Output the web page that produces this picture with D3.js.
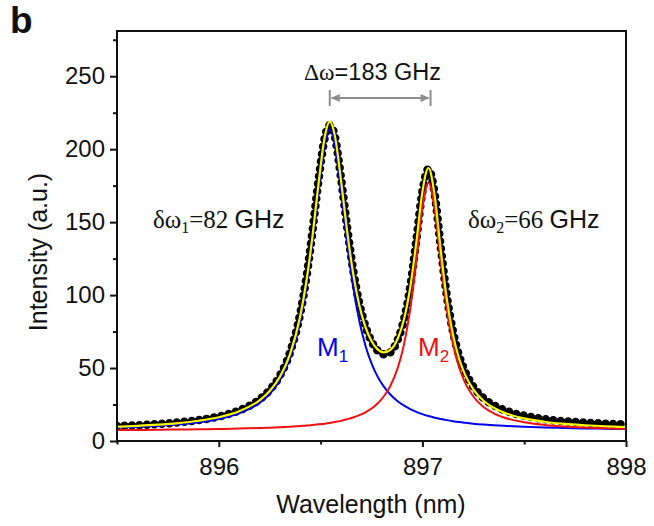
<html>
<script src="https://d3js.org/d3.v7.min.js"></script>
<style>
    body { margin: 0; background: #fff; }
    text { font-family: "Liberation Sans", Arial, sans-serif; fill: #111; }
</style>

<body>
    <script>
        var width = 654;
        var height = 526;

        // values
        var wavelength = [895.5, 895.6, 895.7, 895.8, 895.9, 896.0, 896.1, 896.2, 896.25, 896.3,
            896.35, 896.4, 896.43, 896.46, 896.49, 896.52, 896.545, 896.57, 896.6, 896.63,
            896.66, 896.69, 896.72, 896.75, 896.78, 896.81, 896.84, 896.88, 896.91, 896.94,
            896.97, 897.0, 897.03, 897.06, 897.09, 897.12, 897.15, 897.18, 897.21, 897.25,
            897.3, 897.35, 897.4, 897.5, 897.6, 897.7, 897.8, 897.9, 898.0];
        var measured = [10.2, 10.8, 11.6, 12.7, 14.3, 16.8, 20.9, 28.5, 35.0, 44.8,
            60.8, 87.5, 111.8, 143.5, 179.0, 207.5, 216.5, 208.8, 180.5, 147.0,
            117.2, 94.5, 78.8, 68.4, 62.0, 59.4, 60.5, 69.8, 83.5, 105.5,
            137.5, 171.0, 186.5, 169.5, 133.0, 99.5, 75.2, 58.6, 47.4, 37.3,
            29.4, 24.6, 21.3, 17.3, 15.0, 13.5, 12.6, 11.9, 11.4];
        var fitSum = [9.8, 10.4, 11.2, 12.3, 13.9, 16.3, 20.4, 27.9, 34.3, 44.0,
            59.6, 85.7, 109.3, 140.3, 176.6, 208.2, 218.9, 209.3, 179.0, 144.2,
            114.8, 93.1, 78.2, 68.5, 62.8, 60.8, 62.2, 70.6, 83.6, 105.0,
            136.0, 170.7, 187.1, 168.3, 131.1, 97.4, 73.0, 56.5, 45.3, 35.4,
            27.6, 22.8, 19.5, 15.5, 13.2, 11.7, 10.8, 10.1, 9.6];
        var modeM1 = [9.3, 9.8, 10.4, 11.4, 12.8, 15.1, 18.9, 26.1, 32.2, 41.6,
            56.8, 82.4, 105.7, 136.3, 172.2, 203.3, 213.5, 203.3, 172.2, 136.3,
            105.7, 82.4, 65.5, 53.2, 44.1, 37.4, 32.2, 27.1, 24.2, 21.9,
            20.0, 18.4, 17.1, 16.0, 15.1, 14.3, 13.6, 13.0, 12.5, 11.9,
            11.3, 10.8, 10.4, 9.7, 9.2, 8.9, 8.6, 8.4, 8.2];
        var modeM2 = [7.6, 7.6, 7.7, 7.9, 8.0, 8.2, 8.5, 8.9, 9.1, 9.4,
            9.8, 10.3, 10.6, 11.0, 11.4, 11.9, 12.4, 13.0, 13.8, 14.9,
            16.1, 17.7, 19.7, 22.3, 25.7, 30.5, 37.0, 50.5, 66.4, 90.1,
            123.0, 159.3, 177.0, 159.3, 123.0, 90.1, 66.4, 50.5, 39.8, 30.5,
            23.3, 19.0, 16.1, 12.8, 11.0, 9.9, 9.2, 8.7, 8.4];

        var xMajor = [896, 897, 898];
        var xMinor = [895.5, 896.5, 897.5];
        var yMajor = [0, 50, 100, 150, 200, 250];
        var yMinor = [25, 75, 125, 175, 225, 275];
        var peaks = [896.545, 897.04];

        var svg = d3.select("body").append("svg")
            .attr("width", width)
            .attr("height", height);

        var padL = 117, padR = 626, padT = 31, padB = 441;

        var x = d3.scaleLinear().domain([895.5, 898]).range([padL, padR]);
        var y = d3.scaleLinear().domain([0, 281]).range([padB, padT]);

        svg.append("clipPath").attr("id", "plotclip")
            .append("rect")
            .attr("x", padL).attr("y", padT)
            .attr("width", padR - padL).attr("height", padB - padT);

        var plot = svg.append("g").attr("clip-path", "url(#plotclip)");

        var rows = wavelength.map((w, i) => ({ w: w, d: measured[i], f: fitSum[i], a: modeM1[i], b: modeM2[i] }));

        function lineOf(key) {
            return d3.line()
                .x(d => x(d.w))
                .y(d => y(d[key]))
                .curve(d3.curveMonotoneX);
        }

        // measured points: thick round-capped dotted path
        plot.append("path")
            .datum(rows)
            .attr("d", lineOf("d"))
            .attr("fill", "none")
            .attr("stroke", "#000")
            .attr("stroke-width", 8.5)
            .attr("stroke-linecap", "round")
            .attr("stroke-dasharray", "0 7.5");

        plot.append("path")
            .datum(rows)
            .attr("d", lineOf("a"))
            .attr("fill", "none")
            .attr("stroke", "#0000f0")
            .attr("stroke-width", 2);

        plot.append("path")
            .datum(rows)
            .attr("d", lineOf("b"))
            .attr("fill", "none")
            .attr("stroke", "#f01010")
            .attr("stroke-width", 2);

        plot.append("path")
            .datum(rows)
            .attr("d", lineOf("f"))
            .attr("fill", "none")
            .attr("stroke", "#f8f800")
            .attr("stroke-width", 2.2);

        // axes
        var xAxis = svg.append("g").attr("transform", `translate(0,${padB})`)
            .call(d3.axisBottom(x).tickValues(xMajor).tickSize(6).tickPadding(11).tickFormat(d3.format("d")));
        var xAxisMinor = svg.append("g").attr("transform", `translate(0,${padB})`)
            .call(d3.axisBottom(x).tickValues(xMinor).tickSize(3.5).tickFormat(""));
        var yAxis = svg.append("g").attr("transform", `translate(${padL},0)`)
            .call(d3.axisLeft(y).tickValues(yMajor).tickSize(7).tickPadding(5));
        var yAxisMinor = svg.append("g").attr("transform", `translate(${padL},0)`)
            .call(d3.axisLeft(y).tickValues(yMinor).tickSize(4).tickFormat(""));

        [xAxis, xAxisMinor, yAxis, yAxisMinor].forEach(g => {
            g.select(".domain").remove();
            g.selectAll("line").attr("stroke", "#111").attr("stroke-width", 2);
            g.selectAll("text").attr("font-size", 24).attr("font-family", "Liberation Sans, Arial, sans-serif").attr("fill", "#111");
        });

        svg.append("rect")
            .attr("x", padL).attr("y", padT)
            .attr("width", padR - padL).attr("height", padB - padT)
            .attr("fill", "none")
            .attr("stroke", "#111")
            .attr("stroke-width", 2);

        // titles
        svg.append("text")
            .attr("x", 371).attr("y", 513)
            .attr("text-anchor", "middle")
            .attr("font-size", 25)
            .text("Wavelength (nm)");

        svg.append("text")
            .attr("transform", "translate(47,252) rotate(-90)")
            .attr("text-anchor", "middle")
            .attr("font-size", 25)
            .text("Intensity (a.u.)");

        svg.append("text")
            .attr("x", 10).attr("y", 33)
            .attr("font-size", 37)
            .attr("font-weight", "bold")
            .attr("fill", "#231f20")
            .text("b");

        // annotations
        var serif = "Liberation Serif, Times New Roman, serif";

        var t1 = svg.append("text").attr("x", 153).attr("y", 228).attr("font-size", 25);
        t1.append("tspan").attr("font-family", serif).text("δω");
        t1.append("tspan").attr("font-family", serif).attr("font-size", 16).attr("dy", 5).text("1");
        t1.append("tspan").attr("font-family", serif).attr("dy", -5).text("=82 ");
        t1.append("tspan").text("GHz");

        var t2 = svg.append("text").attr("x", 468).attr("y", 228).attr("font-size", 25);
        t2.append("tspan").attr("font-family", serif).text("δω");
        t2.append("tspan").attr("font-family", serif).attr("font-size", 16).attr("dy", 5).text("2");
        t2.append("tspan").attr("font-family", serif).attr("dy", -5).text("=66 ");
        t2.append("tspan").text("GHz");

        var t3 = svg.append("text").attr("x", 304).attr("y", 80).attr("font-size", 23.5);
        t3.append("tspan").attr("font-family", serif).text("Δω");
        t3.append("tspan").text("=183 GHz");

        var m1 = svg.append("text").attr("x", 317).attr("y", 356).attr("font-size", 26).attr("fill", "#0000f0");
        m1.append("tspan").attr("fill", "#0000f0").text("M");
        m1.append("tspan").attr("fill", "#0000f0").attr("font-size", 17).attr("dy", 6).text("1");

        var m2 = svg.append("text").attr("x", 418).attr("y", 356).attr("font-size", 26).attr("fill", "#f01010");
        m2.append("tspan").attr("fill", "#f01010").text("M");
        m2.append("tspan").attr("fill", "#f01010").attr("font-size", 17).attr("dy", 6).text("2");

        // separation arrow between the two peaks
        var gray = "#8e8e8e";
        var ay = 98;
        var arrow = svg.append("g").attr("stroke", gray).attr("stroke-width", 2);
        peaks.forEach(p => {
            arrow.append("line")
                .attr("x1", x(p)).attr("x2", x(p))
                .attr("y1", ay - 8).attr("y2", ay + 8);
        });
        arrow.append("line")
            .attr("x1", x(peaks[0]) + 2).attr("x2", x(peaks[1]) - 2)
            .attr("y1", ay).attr("y2", ay);
        svg.append("path")
            .attr("d", `M${x(peaks[0]) + 1},${ay} l9,-4 l0,8 z`)
            .attr("fill", gray);
        svg.append("path")
            .attr("d", `M${x(peaks[1]) - 1},${ay} l-9,-4 l0,8 z`)
            .attr("fill", gray);
    </script>
</body>

</html>
